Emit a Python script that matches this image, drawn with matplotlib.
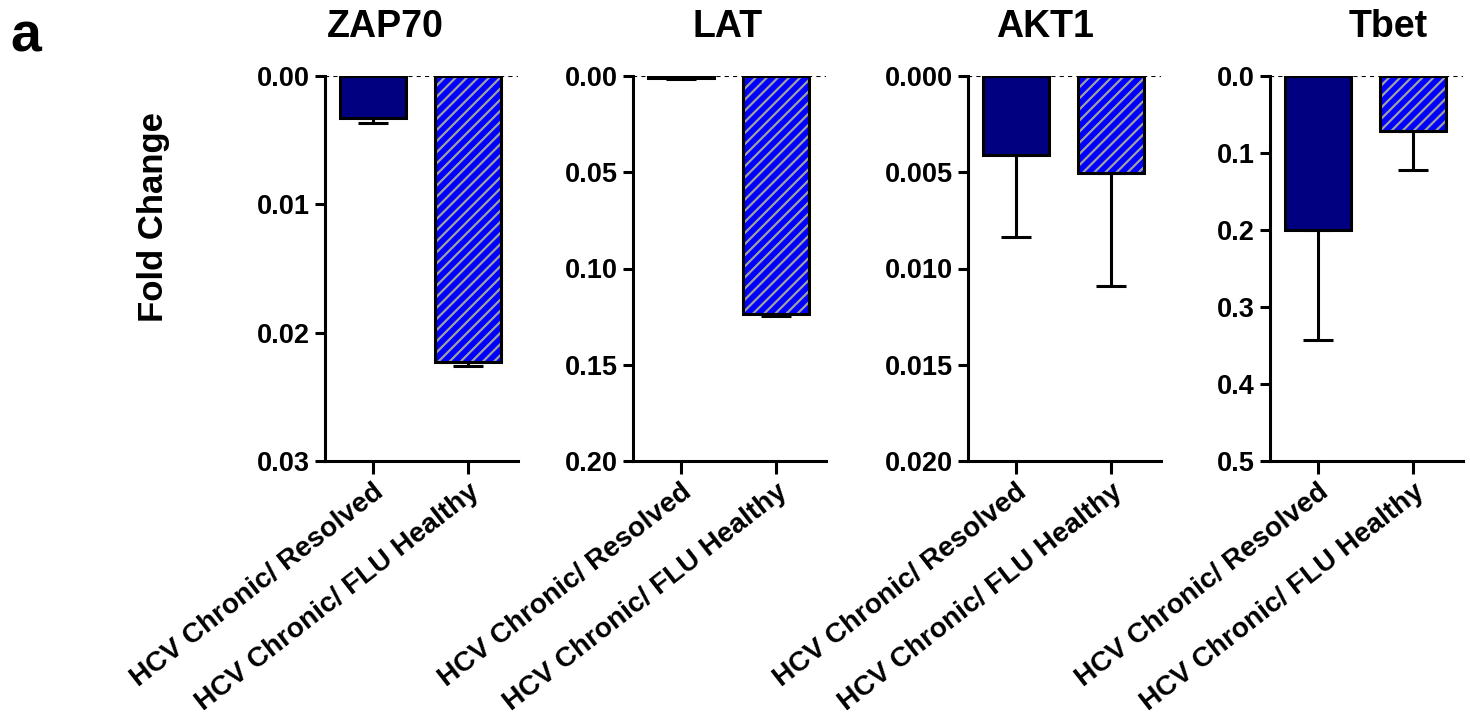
import matplotlib
matplotlib.use("Agg")
import matplotlib.pyplot as plt
from matplotlib.ticker import FormatStrFormatter

plt.rcParams["font.family"] = ["Liberation Sans", "DejaVu Sans"]
plt.rcParams["font.weight"] = "bold"
plt.rcParams["hatch.linewidth"] = 1.6

# data (axes are inverted, bars hang from 0)
genes = ["ZAP70", "LAT", "AKT1", "Tbet"]
groups = ["HCV Chronic/ Resolved", "HCV Chronic/ FLU Healthy"]
zap70_mean = [0.00327, 0.02226]
zap70_err = [0.00042, 0.00032]
lat_mean = [0.0010, 0.1234]
lat_err = [0.0003, 0.0015]
akt1_mean = [0.00410, 0.00506]
akt1_err = [0.00425, 0.00584]
tbet_mean = [0.200, 0.071]
tbet_err = [0.143, 0.051]

means = [zap70_mean, lat_mean, akt1_mean, tbet_mean]
errs = [zap70_err, lat_err, akt1_err, tbet_err]
ymax = [0.03, 0.20, 0.020, 0.5]
ystep = [0.01, 0.05, 0.005, 0.1]
yfmt = ["%.2f", "%.2f", "%.3f", "%.1f"]

fig = plt.figure(figsize=(14.7, 7.15), dpi=100)
W, H = 1470, 715
lefts = [325, 633, 968, 1270]
title_x = [385, 728, 1045, 1388]

for i, g in enumerate(genes):
    ax = fig.add_axes([lefts[i] / W, 1 - 461 / H, 193 / W, 385 / H])
    x = [0, 1]
    # error bars (only away from zero)
    ax.errorbar(x, means[i], yerr=[[0, 0], errs[i]], fmt="none", ecolor="black",
                elinewidth=2.2, capsize=11, capthick=2.2, zorder=1)
    ax.bar(x[0], means[i][0], width=0.695, color="#000080", edgecolor="black",
           linewidth=2.2, zorder=2)
    ax.bar(x[1], means[i][1], width=0.695, color="#0000ff", edgecolor="#a0a0a0",
           hatch="///", linewidth=0, zorder=2)
    ax.bar(x[1], means[i][1], width=0.695, fill=False, edgecolor="black",
           linewidth=2.2, zorder=3)
    ax.axhline(0, color="black", linestyle=(0, (2, 2)), linewidth=1.5, zorder=4)

    ax.set_xlim(-0.505, 1.526)
    n = int(round(ymax[i] / ystep[i]))
    ax.set_yticks([k * ystep[i] for k in range(n + 1)])
    ax.set_ylim(ymax[i], 0)
    ax.yaxis.set_major_formatter(FormatStrFormatter(yfmt[i]))
    ax.set_xticks(x)
    ax.set_xticklabels(groups, rotation=38, ha="right", rotation_mode="anchor",
                       fontsize=20.2, fontweight="bold")
    ax.tick_params(axis="y", labelsize=19.5, width=2.2, length=7, pad=4)
    ax.tick_params(axis="x", width=2.2, length=9, pad=4)
    for s in ["top", "right"]:
        ax.spines[s].set_visible(False)
    for s in ["left", "bottom"]:
        ax.spines[s].set_linewidth(2.2)
    fig.text(title_x[i] / W, 1 - 37 / H, g, fontsize=27, fontweight="bold",
             ha="center", va="baseline")

fig.text(153 / W, 1 - 217 / H, "Fold Change", fontsize=25, fontweight="bold",
         rotation=90, ha="center", va="center")
fig.text(10 / W, 1 - 52 / H, "a", fontsize=40, fontweight="bold")

plt.savefig("out.png", dpi=100)
